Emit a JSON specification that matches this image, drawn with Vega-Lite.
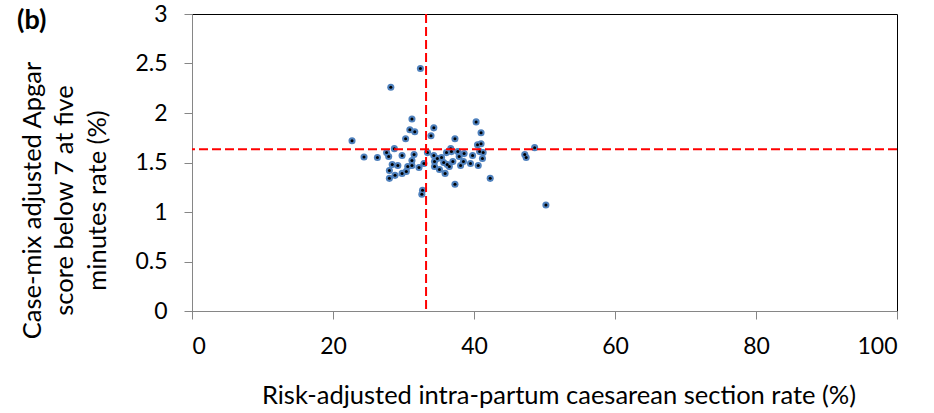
{
  "$schema": "https://vega.github.io/schema/vega-lite/v6.json",
  "autosize": "none",
  "width": 705,
  "height": 297,
  "padding": {"left": 192, "top": 14, "right": 37, "bottom": 102},
  "background": "white",
  "config": {
    "font": "Lato",
    "view": {"stroke": "black", "strokeWidth": 1},
    "axis": {"grid": false, "domainColor": "#868686", "tickColor": "#868686", "labelColor": "black", "titleColor": "black", "labelFontSize": 23, "titleFontSize": 25.5, "titleFontWeight": "normal", "tickSize": 8, "labelFont": "Lato", "titleFont": "Lato"}
  },
  "title": {"text": "(b)", "anchor": "start", "frame": "group", "fontSize": 27, "fontWeight": "bold", "font": "Lato", "baseline": "alphabetic", "offset": 0, "dx": -175, "dy": 53, "color": "black"},
  "datasets": {
    "pts": [
      {"x": 22.7, "y": 1.72}, {"x": 24.4, "y": 1.555}, {"x": 26.3, "y": 1.55}, {"x": 28.2, "y": 2.26},
      {"x": 32.4, "y": 2.45}, {"x": 28.7, "y": 1.64}, {"x": 27.6, "y": 1.60}, {"x": 27.9, "y": 1.56},
      {"x": 28.4, "y": 1.48}, {"x": 28.0, "y": 1.42}, {"x": 28.0, "y": 1.34}, {"x": 28.8, "y": 1.37},
      {"x": 29.2, "y": 1.47}, {"x": 29.8, "y": 1.57}, {"x": 29.8, "y": 1.39}, {"x": 30.4, "y": 1.41},
      {"x": 30.6, "y": 1.46}, {"x": 31.2, "y": 1.52}, {"x": 31.2, "y": 1.47}, {"x": 31.5, "y": 1.58},
      {"x": 30.3, "y": 1.74}, {"x": 30.9, "y": 1.83}, {"x": 31.6, "y": 1.81}, {"x": 31.2, "y": 1.94},
      {"x": 32.2, "y": 1.45}, {"x": 32.9, "y": 1.49}, {"x": 32.7, "y": 1.22}, {"x": 32.6, "y": 1.18},
      {"x": 33.4, "y": 1.60}, {"x": 33.9, "y": 1.77}, {"x": 34.3, "y": 1.85}, {"x": 34.3, "y": 1.57},
      {"x": 34.4, "y": 1.51}, {"x": 34.8, "y": 1.54}, {"x": 34.4, "y": 1.46}, {"x": 35.1, "y": 1.43},
      {"x": 35.4, "y": 1.55}, {"x": 35.7, "y": 1.50}, {"x": 35.9, "y": 1.39}, {"x": 36.1, "y": 1.60},
      {"x": 36.2, "y": 1.48}, {"x": 36.5, "y": 1.46}, {"x": 36.7, "y": 1.64}, {"x": 36.8, "y": 1.61},
      {"x": 37.0, "y": 1.51}, {"x": 37.3, "y": 1.74}, {"x": 37.3, "y": 1.28}, {"x": 37.7, "y": 1.61},
      {"x": 37.9, "y": 1.56}, {"x": 38.1, "y": 1.47}, {"x": 38.5, "y": 1.51}, {"x": 38.6, "y": 1.59},
      {"x": 39.5, "y": 1.49}, {"x": 39.8, "y": 1.57}, {"x": 40.3, "y": 1.91}, {"x": 40.6, "y": 1.47},
      {"x": 40.5, "y": 1.68}, {"x": 41.0, "y": 1.69}, {"x": 41.0, "y": 1.80}, {"x": 40.8, "y": 1.61},
      {"x": 41.3, "y": 1.60}, {"x": 41.2, "y": 1.54}, {"x": 42.3, "y": 1.34}, {"x": 47.2, "y": 1.58},
      {"x": 47.4, "y": 1.55}, {"x": 48.6, "y": 1.65}, {"x": 50.2, "y": 1.07}
    ],
    "vline": [{"x": 33.2}],
    "hline": [{"y": 1.635}]
  },
  "layer": [
    {
      "data": {"name": "pts"},
      "mark": {"type": "point", "filled": true, "size": 50, "color": "#4F81BD", "opacity": 1},
      "encoding": {
        "x": {"field": "x", "type": "quantitative", "scale": {"domain": [0, 100], "nice": false},
          "axis": {"values": [0, 20, 40, 60, 80, 100], "title": "Risk-adjusted intra-partum caesarean section rate (%)", "labelBaseline": "alphabetic", "labelPadding": 34, "titleX": 366.5, "titleY": 92, "titleAlign": "center", "titleBaseline": "alphabetic"}},
        "y": {"field": "y", "type": "quantitative", "scale": {"domain": [0, 3], "nice": false},
          "axis": {"values": [0, 0.5, 1, 1.5, 2, 2.5, 3], "format": "~g", "title": ["Case-mix adjusted Apgar", "score below 7 at five", "minutes rate (%)"], "titleLineHeight": 32.5, "labelPadding": 17, "titleX": -160, "titleY": 186, "titleAlign": "center", "titleBaseline": "middle", "titleAngle": -90}}
      }
    },
    {
      "data": {"name": "pts"},
      "mark": {"type": "point", "filled": true, "size": 9, "color": "black", "opacity": 1},
      "encoding": {
        "x": {"field": "x", "type": "quantitative"},
        "y": {"field": "y", "type": "quantitative"}
      }
    },
    {
      "data": {"name": "vline"},
      "mark": {"type": "rule", "color": "#FF0000", "strokeWidth": 2, "strokeDash": [9, 4]},
      "encoding": {"x": {"field": "x", "type": "quantitative"}}
    },
    {
      "data": {"name": "hline"},
      "mark": {"type": "rule", "color": "#FF0000", "strokeWidth": 2, "strokeDash": [9, 4]},
      "encoding": {"y": {"field": "y", "type": "quantitative"}}
    }
  ]
}
